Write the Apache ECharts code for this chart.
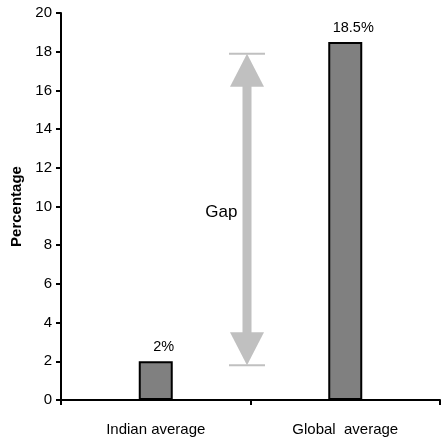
<!DOCTYPE html>
<html><head><meta charset="utf-8">
<script src="https://cdn.jsdelivr.net/npm/echarts@6/dist/echarts.min.js"></script>
<style>html,body{margin:0;padding:0;background:#fff}#c{width:442px;height:437px}</style>
</head><body><div id="c"></div>
<script>
var categories = ['Indian average', 'Global  average'];
var values = [2, 18.5];
var valueLabels = ['2%', '18.5%'];
var yTicks = [0, 2, 4, 6, 8, 10, 12, 14, 16, 18, 20];
var gapFrom = 1.8, gapTo = 17.9, gapLabelAt = 9.7;
var gapLabel = 'Gap';

var chart = echarts.init(document.getElementById('c'), null, {renderer: 'canvas'});
var font = '"Liberation Sans", Arial, sans-serif';
chart.setOption({
  animation: false,
  grid: {left: 61, right: 2, top: 13, bottom: 37},
  xAxis: {
    type: 'category', data: categories,
    axisLine: {lineStyle: {color: '#000', width: 2}},
    axisTick: {show: true, length: 5, lineStyle: {color: '#000', width: 2}},
    axisLabel: {color: '#000', fontSize: 15, fontFamily: font, margin: 22}
  },
  yAxis: {
    type: 'value', min: yTicks[0], max: yTicks[yTicks.length - 1], interval: 2,
    name: 'Percentage', nameLocation: 'middle', nameGap: 36,
    nameTextStyle: {color: '#000', fontSize: 15, fontWeight: 'bold', fontFamily: font},
    axisLine: {show: true, lineStyle: {color: '#000', width: 2}},
    axisTick: {show: true, length: 5, lineStyle: {color: '#000', width: 2}},
    axisLabel: {color: '#000', fontSize: 15, fontFamily: font, margin: 9},
    splitLine: {show: false}
  },
  series: [{
    type: 'bar', barWidth: 34,
    data: values.map(function (v, i) {
      return {value: v, label: {formatter: valueLabels[i]}};
    }),
    itemStyle: {color: '#808080', borderColor: '#000', borderWidth: 2},
    label: {show: true, position: 'top', distance: 7, offset: [8, 0], color: '#000', fontSize: 14.5, fontFamily: font}
  }, {
    type: 'custom',
    data: [[gapFrom, gapTo, gapLabelAt]],
    renderItem: function (params, api) {
      var x0 = api.coord([0, 0])[0], x1 = api.coord([1, 0])[0];
      var cx = (x0 + x1) / 2 - 3.5;
      var yLo = api.coord([0, api.value(0)])[1];
      var yHi = api.coord([0, api.value(1)])[1];
      var yT = api.coord([0, api.value(2)])[1];
      var hw = 17, hl = 33, sw = 4.5, c = '#c0c0c0';
      return {type: 'group', children: [
        {type: 'rect', shape: {x: cx - sw, y: yHi + hl - 1, width: sw * 2, height: (yLo - yHi) - 2 * hl + 2}, style: {fill: c}},
        {type: 'polygon', shape: {points: [[cx, yHi], [cx - hw, yHi + hl], [cx + hw, yHi + hl]]}, style: {fill: c}},
        {type: 'polygon', shape: {points: [[cx, yLo], [cx - hw, yLo - hl], [cx + hw, yLo - hl]]}, style: {fill: c}},
        {type: 'line', shape: {x1: cx - 18, y1: yHi, x2: cx + 18, y2: yHi}, style: {stroke: c, lineWidth: 2}},
        {type: 'line', shape: {x1: cx - 18, y1: yLo, x2: cx + 18, y2: yLo}, style: {stroke: c, lineWidth: 2}},
        {type: 'text', x: cx - 9.5, y: yT, style: {text: gapLabel, fill: '#000', fontSize: 17, fontFamily: font, align: 'right', verticalAlign: 'middle'}}
      ]};
    },
    z: 1, silent: true
  }]
});
</script></body></html>
